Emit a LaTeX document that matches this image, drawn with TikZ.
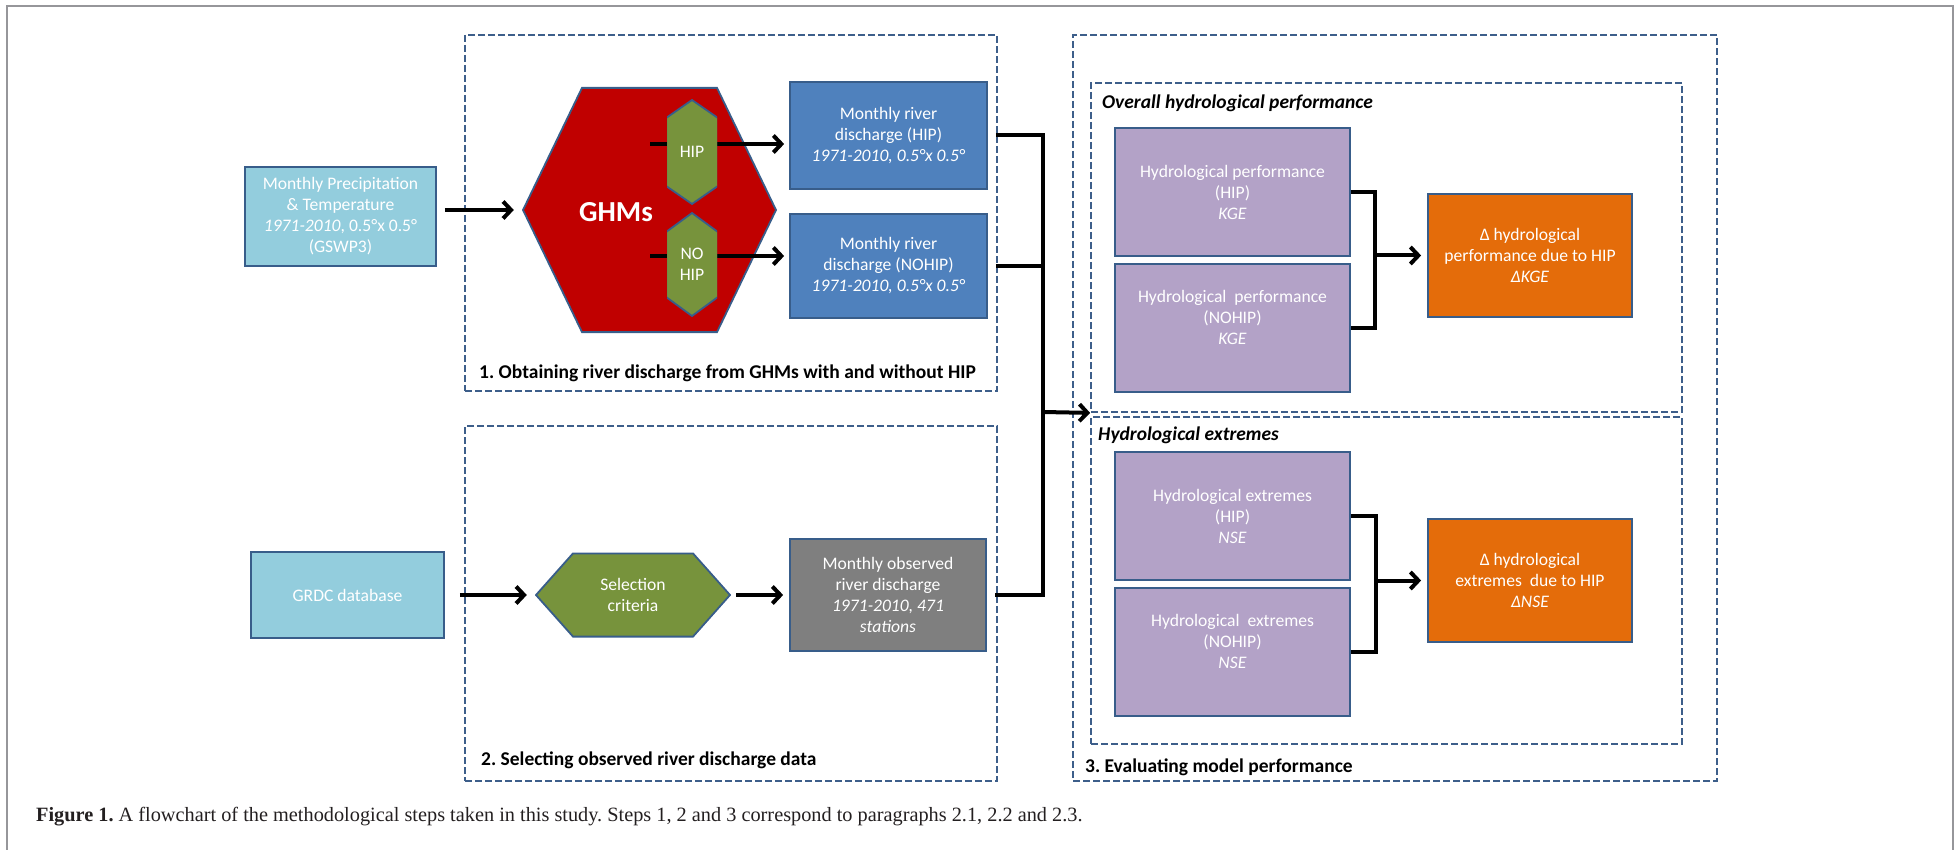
\documentclass[tikz,border=0pt]{standalone}
\usepackage{fontspec}
\setmainfont{Liberation Serif}
\newfontfamily\calfont{Carlito}
\usetikzlibrary{arrows.meta}
\frenchspacing
\definecolor{bord}{HTML}{385D8A}
\definecolor{dashc}{HTML}{3D5E8A}
\definecolor{lblue}{HTML}{93CDDD}
\definecolor{mblue}{HTML}{4F81BD}
\definecolor{ghmred}{HTML}{C00000}
\definecolor{olive}{HTML}{77933C}
\definecolor{obsgray}{HTML}{7F7F7F}
\definecolor{purp}{HTML}{B3A2C7}
\definecolor{orng}{HTML}{E46C0A}
\definecolor{framec}{HTML}{96969A}
\definecolor{captc}{HTML}{231F20}
\tikzset{
  boxtext/.style={text=white, font=\calfont\fontsize{17.6}{21}\selectfont, align=center},
  box/.style={boxtext, draw=bord, line width=1.8pt, fill=#1, inner sep=0pt},
  region/.style={draw=dashc, line width=1.8pt, dash pattern=on 7pt off 3pt, inner sep=0pt},
  heading/.style={font=\calfont\bfseries\fontsize{19.5}{23}\selectfont, anchor=west, inner sep=0pt},
  subheading/.style={font=\calfont\bfseries\itshape\fontsize{19.5}{23}\selectfont, anchor=west, inner sep=0pt},
  conn/.style={line width=4pt},
  arr/.style={line width=4pt, -{Straight Barb[length=8pt,width=17pt]}},
  hexh/.style 2 args={boxtext, inner sep=0pt, path picture={
    \filldraw[fill=#2, draw=bord, line width=1.8pt]
      ([xshift=1pt]path picture bounding box.west)
      -- ([xshift=#1, yshift=-0.9pt]path picture bounding box.north west)
      -- ([xshift=-#1, yshift=-0.9pt]path picture bounding box.north east)
      -- ([xshift=-1pt]path picture bounding box.east)
      -- ([xshift=-#1, yshift=0.9pt]path picture bounding box.south east)
      -- ([xshift=#1, yshift=0.9pt]path picture bounding box.south west) -- cycle;}},
  hexv/.style 2 args={boxtext, inner sep=0pt, path picture={
    \filldraw[fill=#2, draw=bord, line width=1.8pt]
      ([yshift=-1pt]path picture bounding box.north)
      -- ([xshift=0.9pt, yshift=-#1]path picture bounding box.north east)
      -- ([xshift=0.9pt, yshift=#1]path picture bounding box.south east)
      -- ([yshift=1pt]path picture bounding box.south)
      -- ([xshift=-0.9pt, yshift=#1]path picture bounding box.south west)
      -- ([xshift=-0.9pt, yshift=-#1]path picture bounding box.north west) -- cycle;}}
}
\begin{document}
\begin{tikzpicture}[x=1pt,y=-1pt]
\useasboundingbox (0,0) rectangle (1959,850);
% outer frame
\draw[framec, line width=2.5pt] (7,850) -- (7,6) -- (1953,6) -- (1953,850);

% dashed regions
\node[region, minimum width=532pt, minimum height=356pt] (box1) at (731,213) {};
\node[region, minimum width=532pt, minimum height=355pt] (box2) at (731,603.5) {};
\node[region, minimum width=644pt, minimum height=746pt] (box3) at (1395,408) {};
\node[region, minimum width=591pt, minimum height=329pt] (inner1) at (1386.5,247.5) {};
\node[region, minimum width=591pt, minimum height=327pt] (inner2) at (1386.5,580.5) {};

\node[heading] (h1) at (479,373) {1. Obtaining river discharge from GHMs with and without HIP};
\node[heading] (h2) at (481,760) {2. Selecting observed river discharge data};
\node[heading] (h3) at (1085,767) {3. Evaluating model performance};
\node[subheading] (s1) at (1102,103) {Overall hydrological performance};
\node[subheading] (s2) at (1098,435) {Hydrological extremes};

% inputs
\node[box=lblue, minimum width=191pt, minimum height=99pt] (precip) at (340.5,216.5)
  {Monthly Precipitation\\ \& Temperature\\ \textit{1971-2010}, 0.5°x 0.5°\\ (GSWP3)};
\node[box=lblue, minimum width=193pt, minimum height=86pt] (grdc) at (347.5,595) {GRDC database};

% GHMs
\node[hexh={60pt}{ghmred}, minimum width=255pt, minimum height=246pt] (ghm) at (649.5,210) {};
\node[text=white, font=\calfont\bfseries\fontsize{29}{34}\selectfont, inner sep=0pt] (ghmtext) at (616,212) {GHMs};

% model output
\node[box=mblue, minimum width=197pt, minimum height=107pt] (mrd1) at (888.5,135.5)
  {Monthly river\\ discharge (HIP)\\ \textit{1971-2010, 0.5°x 0.5°}};
\node[box=mblue, minimum width=197pt, minimum height=104pt] (mrd2) at (888.5,266)
  {Monthly river\\ discharge (NOHIP)\\ \textit{1971-2010, 0.5°x 0.5°}};

\coordinate (hipstart) at (650,144);
\coordinate (nohipstart) at (650,256);
\draw[arr, shorten >=5pt] (hipstart) -- (hipstart -| mrd1.west);
\draw[arr, shorten >=5pt] (nohipstart) -- (nohipstart -| mrd2.west);

\node[hexv={19pt}{olive}, minimum width=50pt, minimum height=106pt] (hip) at (692,152) {HIP};
\node[hexv={20pt}{olive}, minimum width=50pt, minimum height=105pt] (nohip) at (692,264.5) {NO\\ HIP};

\draw[arr, shorten <=8pt, shorten >=8pt] (precip.east |- ghm.west) -- (ghm.west);

% observed
\node[hexh={38pt}{olive}, minimum width=196pt, minimum height=85pt] (sel) at (633,595) {Selection\\ criteria};
\node[box=obsgray, minimum width=196pt, minimum height=112pt] (obs) at (888,595)
  {Monthly observed\\ river discharge\\ \textit{1971-2010, 471}\\ \textit{stations}};
\draw[arr, shorten <=15pt, shorten >=8pt] (grdc.east) -- (sel.west);
\draw[arr, shorten <=5pt, shorten >=6pt] (sel.east) -- (obs.west);

% main bracket
\coordinate (bx) at (1043,412);
\draw[conn] ([xshift=8pt]mrd1.east) -| (bx |- obs.east) -- ([xshift=8pt]obs.east);
\draw[conn] ([xshift=8pt]mrd2.east) -- (bx |- mrd2.east);
\draw[arr] (bx) -- (inner1.south west);

% evaluation: overall
\node[box=purp, minimum width=235pt, minimum height=128pt] (hp1) at (1232.5,192)
  {Hydrological performance\\ (HIP)\\ \textit{KGE}};
\node[box=purp, minimum width=235pt, minimum height=128pt] (hp2) at (1232.5,328)
  {Hydrological\ \ performance\\ (NOHIP)\\ \textit{KGE}\\ \mbox{}};
\node[box=orng, minimum width=204pt, minimum height=123pt] (or1) at (1530,255.5)
  {Δ hydrological\\ performance due to HIP\\ \textit{ΔKGE}};
\coordinate (b2) at (1375,255.5);
\draw[conn] (hp1.east) -| (b2 |- hp2.east) -- (hp2.east);
\draw[arr, shorten >=6pt] (b2) -- (or1.west);

% evaluation: extremes
\node[box=purp, minimum width=235pt, minimum height=128pt] (he1) at (1232.5,516)
  {Hydrological extremes\\ (HIP)\\ \textit{NSE}};
\node[box=purp, minimum width=235pt, minimum height=128pt] (he2) at (1232.5,652)
  {Hydrological\ \ extremes\\ (NOHIP)\\ \textit{NSE}\\ \mbox{}};
\node[box=orng, minimum width=204pt, minimum height=123pt] (or2) at (1530,580.5)
  {Δ hydrological\\ extremes\ \ due to HIP\\ \textit{ΔNSE}};
\coordinate (b3) at (1376,580.5);
\draw[conn] (he1.east) -| (b3 |- he2.east) -- (he2.east);
\draw[arr, shorten >=6pt] (b3) -- (or2.west);

% caption
\node[anchor=west, inner sep=0pt, text=captc, font=\fontsize{20.3}{24}\selectfont] (caption) at (36,817)
  {\textbf{Figure 1.} A flowchart of the methodological steps taken in this study. Steps 1, 2 and 3 correspond to paragraphs 2.1, 2.2 and 2.3.};
\end{tikzpicture}
\end{document}
